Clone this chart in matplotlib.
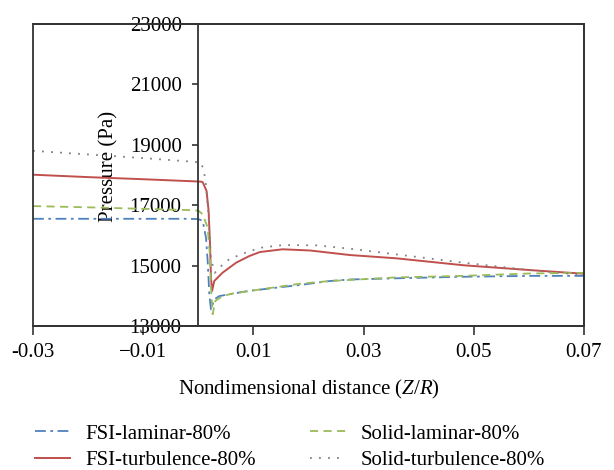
import numpy as np
import matplotlib
matplotlib.use('Agg')
import matplotlib.pyplot as plt
from matplotlib.patches import Rectangle

plt.rcParams['font.family'] = ['Liberation Serif', 'DejaVu Serif']
plt.rcParams['font.size'] = 15
plt.rcParams['mathtext.fontset'] = 'custom'
plt.rcParams['mathtext.rm'] = 'Liberation Serif'
plt.rcParams['mathtext.it'] = 'Liberation Serif:italic'

# values
x_fsi_lam = [-0.03, -0.02, -0.01, -0.002, 0.0, 0.0008, 0.0014, 0.0017, 0.0020, 0.0023,
             0.0029, 0.0038, 0.0062, 0.0091, 0.0185, 0.0239, 0.0275, 0.036, 0.048, 0.0603, 0.07]
y_fsi_lam = [16550, 16550, 16550, 16550, 16540, 16480, 15920, 15150, 14050, 13550,
             13880, 13990, 14070, 14160, 14360, 14490, 14540, 14580, 14630, 14660, 14660]

x_solid_lam = [-0.03, -0.02, -0.01, -0.002, 0.0, 0.0008, 0.0017, 0.0021, 0.0023, 0.0026,
               0.0031, 0.0044, 0.0063, 0.0112, 0.0185, 0.0239, 0.036, 0.048, 0.0603, 0.07]
y_solid_lam = [16970, 16930, 16880, 16840, 16820, 16700, 16260, 15370, 14270, 13390,
               13830, 13990, 14080, 14210, 14400, 14490, 14610, 14660, 14740, 14760]

x_fsi_turb = [-0.03, -0.02, -0.01, -0.002, 0.0005, 0.0008, 0.0015, 0.00187, 0.00213, 0.0023,
              0.0025, 0.0029, 0.0044, 0.0069, 0.0093, 0.0112, 0.0153, 0.0203, 0.0275, 0.036,
              0.0482, 0.0603, 0.07]
y_fsi_turb = [18010, 17930, 17860, 17800, 17780, 17760, 17470, 16810, 15705, 14600,
              14160, 14490, 14765, 15100, 15320, 15450, 15540, 15500, 15350, 15240,
              15010, 14850, 14730]

x_solid_turb = [-0.03, -0.02, -0.01, -0.004, -0.001, 0.0005, 0.0009, 0.0013, 0.0018, 0.0023,
                0.0030, 0.0038, 0.0056, 0.008, 0.0112, 0.0153, 0.0215, 0.0275, 0.036, 0.048,
                0.0603, 0.07]
y_solid_turb = [18800, 18680, 18560, 18480, 18440, 18410, 18190, 17860, 16800, 15200,
                14760, 14930, 15210, 15390, 15590, 15680, 15670, 15560, 15370, 15100,
                14850, 14690]

xticks = [-0.03, -0.01, 0.01, 0.03, 0.05, 0.07]
xtick_labels = ['-0.03', '\u22120.01', '0.01', '0.03', '0.05', '0.07']
yticks = [13000, 15000, 17000, 19000, 21000, 23000]

fig = plt.figure(figsize=(6.14, 4.70), dpi=100)
ax = fig.add_axes([33/614, (470-326)/470, 551/614, 302/470])

ax.plot(x_fsi_lam, y_fsi_lam, color='#4f81bd', lw=1.3, ls=(0, (6, 2.5, 1.5, 2.5)),
        label='FSI-laminar-80%')
ax.plot(x_fsi_turb, y_fsi_turb, color='#c0504d', lw=1.4, ls='-',
        label='FSI-turbulence-80%')
ax.plot(x_solid_lam, y_solid_lam, color='#9bbb59', lw=1.3, ls=(0, (4.5, 3)),
        label='Solid-laminar-80%')
ax.plot(x_solid_turb, y_solid_turb, color='#808080', lw=1.3, ls=(0, (1, 4)),
        label='Solid-turbulence-80%')

ax.set_xlim(-0.03, 0.07)
ax.set_ylim(13000, 23000)
ax.set_xticks(xticks)
ax.set_xticklabels(xtick_labels)
ax.set_yticks(yticks)

spine_col = '#333333'
ax.spines['left'].set_position(('data', 0))
for s in ax.spines.values():
    s.set_color(spine_col)
    s.set_linewidth(1.3)
# outer box edge on the left
ax.add_patch(Rectangle((0, 0), 1, 1, transform=ax.transAxes, fill=False,
                       edgecolor=spine_col, lw=1.3, clip_on=False, zorder=3))

ax.tick_params(axis='x', direction='out', length=6.5, width=1.2, pad=6, colors=spine_col,
               labelcolor='black')
ax.tick_params(axis='y', direction='out', length=4, width=1.2, pad=8, colors=spine_col,
               labelcolor='black')

ax.set_ylabel('Pressure (Pa)')
ax.yaxis.set_label_coords(0.155, 0.527)
ax.set_xlabel('Nondimensional distance ($Z$/$R$)', labelpad=11)

fig.legend(loc='upper left', bbox_to_anchor=(35/614, (470-424)/470), ncol=2,
           frameon=False, borderpad=0, borderaxespad=0, handlelength=1.7,
           handletextpad=0.7, columnspacing=2.63, labelspacing=0.35)

fig.savefig('out.png', dpi=100)
